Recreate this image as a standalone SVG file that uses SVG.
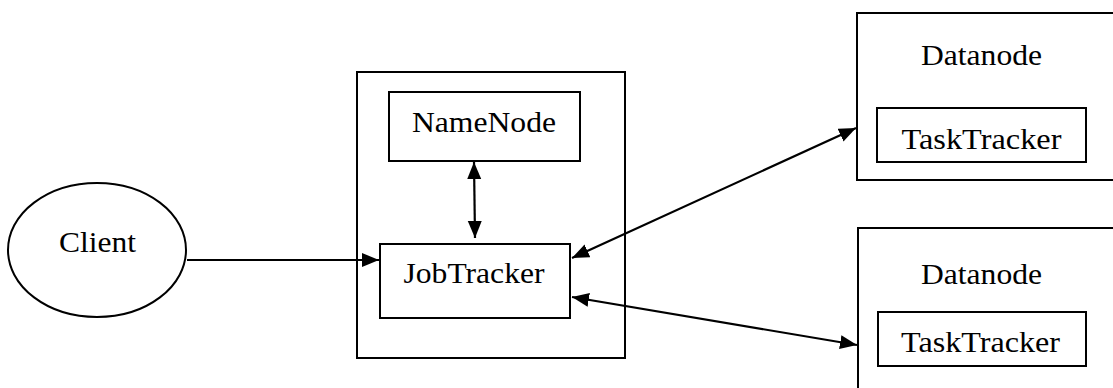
<svg xmlns="http://www.w3.org/2000/svg" width="1113" height="388" viewBox="0 0 1113 388">
<style>
.b{fill:#fff;stroke:#000;stroke-width:2}
text{font-family:'Liberation Serif','Times New Roman',Times,serif;font-size:29px;fill:#000;text-anchor:middle}
.c{fill:none;stroke:#000;stroke-width:2.2}
</style>
<defs>
<marker id="a" markerUnits="userSpaceOnUse" markerWidth="18" markerHeight="15" refX="17" refY="7" orient="auto-start-reverse" viewBox="0 0 18 14">
<path d="M0,0 L17,7 L0,14 Z" fill="#000"/>
</marker>
</defs>
<rect width="1113" height="388" fill="#fff"/>
<g id="client"><ellipse class="b" cx="97" cy="250" rx="89" ry="67"/><text x="97.5" y="251.5" textLength="77" lengthAdjust="spacingAndGlyphs">Client</text></g>
<g id="master"><rect class="b" x="357" y="72" width="268" height="286"/></g>
<g id="namenode"><rect class="b" x="389" y="92" width="191" height="69"/><text x="484" y="131.5" textLength="144" lengthAdjust="spacingAndGlyphs">NameNode</text></g>
<g id="jobtracker"><rect class="b" x="380" y="244" width="190" height="74"/><text x="474" y="282.5" textLength="141" lengthAdjust="spacingAndGlyphs">JobTracker</text></g>
<g id="datanode1"><rect class="b" x="857" y="13" width="270" height="167"/><text x="981.5" y="65" textLength="121" lengthAdjust="spacingAndGlyphs">Datanode</text>
<rect class="b" x="877" y="108" width="209" height="54"/><text x="981.5" y="148.5" textLength="160" lengthAdjust="spacingAndGlyphs">TaskTracker</text></g>
<g id="datanode2"><rect class="b" x="858" y="228" width="270" height="170"/><text x="981.5" y="283.5" textLength="121" lengthAdjust="spacingAndGlyphs">Datanode</text>
<rect class="b" x="878" y="312" width="208" height="54"/><text x="980.5" y="351.5" textLength="159" lengthAdjust="spacingAndGlyphs">TaskTracker</text></g>
<g id="connectors">
<line class="c" x1="187" y1="260" x2="379" y2="260" marker-end="url(#a)"/>
<line class="c" x1="474" y1="162" x2="475" y2="238" marker-start="url(#a)" marker-end="url(#a)"/>
<line class="c" x1="572" y1="258" x2="856" y2="128" marker-start="url(#a)" marker-end="url(#a)"/>
<line class="c" x1="572" y1="297" x2="857" y2="345" marker-start="url(#a)" marker-end="url(#a)"/>
</g>
</svg>
